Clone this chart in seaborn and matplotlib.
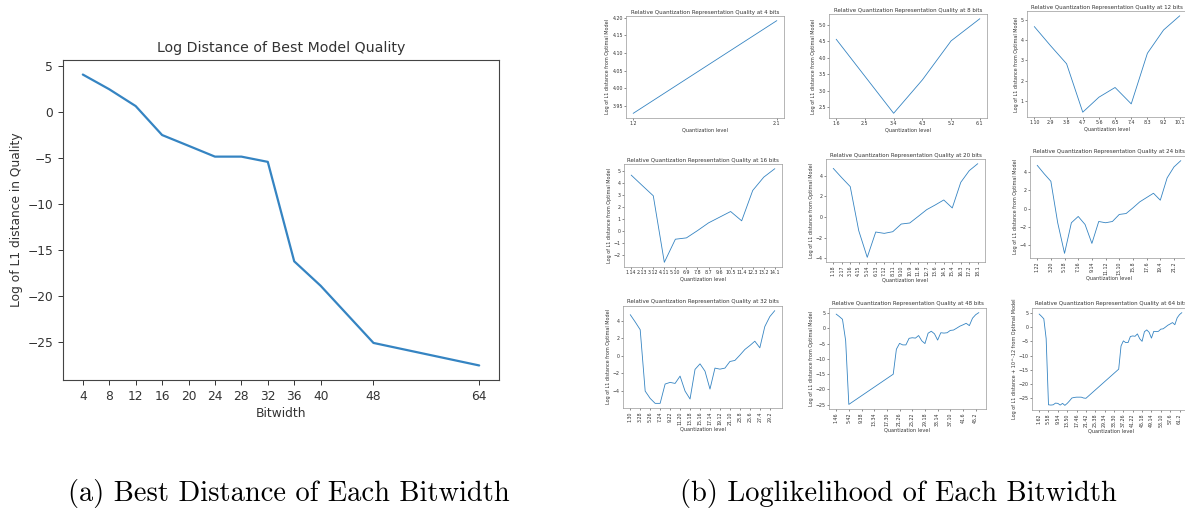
import matplotlib
matplotlib.use("Agg")
import matplotlib.pyplot as plt
import matplotlib.ticker as mticker
import seaborn as sns
import pandas as pd

# ---- left panel: best log distance per bitwidth ----
bitwidths = [4, 8, 12, 16, 20, 24, 28, 32, 36, 40, 48, 64]
best_log_distance = [4.05, 2.45, 0.62, -2.53, -3.70, -4.88, -4.88, -5.45,
                     -16.27, -18.93, -25.15, -27.60]

# ---- right panels: log L1 distance per quantization level ----
# positions are indices into the level list for that bitwidth
q4_idx = [0, 1]
q4_val = [3.929, 4.192]

q8_idx = list(range(6))
q8_val = [4.56, 3.44, 2.32, 3.33, 4.51, 5.18]

q12_idx = list(range(10))
q12_val = [4.67, 3.73, 2.83, 0.44, 1.18, 1.66, 0.85, 3.35, 4.50, 5.20]

q16_idx = list(range(14))
q16_val = [4.64, 3.78, 2.93, -2.57, -0.66, -0.55, 0.05, 0.69, 1.16, 1.63,
           0.86, 3.37, 4.47, 5.17]

q20_idx = list(range(18))
q20_val = [4.69, 3.79, 2.93, -1.32, -3.89, -1.45, -1.58, -1.42, -0.68, -0.58,
           0.06, 0.71, 1.16, 1.64, 0.87, 3.34, 4.47, 5.14]

q24_idx = list(range(22))
q24_val = [4.73, 3.82, 2.98, -1.56, -4.91, -1.56, -0.87, -1.75, -3.82, -1.42,
           -1.56, -1.42, -0.65, -0.55, 0.07, 0.73, 1.20, 1.67, 0.91, 3.35,
           4.55, 5.24]

q32_idx = list(range(30))
q32_val = [4.73, 3.89, 3.00, -4.05, -4.89, -5.46, -5.46, -3.24, -3.05, -3.17,
           -2.33, -4.05, -4.96, -1.56, -0.92, -1.76, -3.82, -1.41, -1.53, -1.41,
           -0.65, -0.53, 0.08, 0.73, 1.18, 1.68, 0.92, 3.36, 4.50, 5.19]

q48_idx = [0, 1, 2, 3, 4] + list(range(18, 46))
q48_val = [4.70, 3.90, 3.00, -4.00, -24.90,
           -15.00, -6.80, -4.90, -5.40, -5.40, -3.24, -3.05, -3.17, -2.33,
           -4.05, -4.96, -1.56, -0.92, -1.76, -3.82, -1.41, -1.53, -1.41,
           -0.65, -0.53, 0.08, 0.73, 1.18, 1.68, 0.92, 3.36, 4.50, 5.19]

q64_idx = list(range(0, 21)) + list(range(34, 62))
q64_val = [4.70, 3.90, 3.00, -4.00, -27.40, -27.50, -27.40, -26.80, -26.90,
           -27.50, -26.90, -27.60, -26.90, -26.00, -25.00, -24.80, -24.70,
           -24.70, -24.70, -25.00, -25.10,
           -14.80, -6.60, -4.80, -5.40, -5.40, -3.24, -3.05, -3.17, -2.33,
           -4.05, -4.96, -1.56, -0.92, -1.76, -3.82, -1.41, -1.53, -1.41,
           -0.65, -0.53, 0.08, 0.73, 1.18, 1.68, 0.92, 3.36, 4.50, 5.19]

panel_bits = [4, 8, 12, 16, 20, 24, 32, 48, 64]
panel_idx = [q4_idx, q8_idx, q12_idx, q16_idx, q20_idx, q24_idx, q32_idx, q48_idx, q64_idx]
panel_val = [q4_val, q8_val, q12_val, q16_val, q20_val, q24_val, q32_val, q48_val, q64_val]
panel_label_step = [1, 1, 1, 1, 1, 2, 2, 4, 4]
panel_rotate = [0, 0, 0, 0, 90, 90, 90, 90, 90]
panel_ystep = [0.05, 0.5, 1, 1, 2, 2, 2, 5, 5]
panel_ylabel = ["Log of L1 distance from Optimal Model"] * 8 + \
               ["Log of L1 distance + 10^-12 from Optimal Model"]

# axes boxes in pixels: (left, top, right, bottom)
panel_box = [
    (626, 16, 784, 118), (829, 14, 987, 118), (1027, 11, 1187, 117),
    (624, 164, 782, 267), (826, 159, 985, 262), (1030, 156, 1188, 258),
    (623, 306, 782, 408), (829, 308, 986, 409), (1032, 308, 1189, 410),
]

W, H = 1185, 509
sns.set_style("ticks")
plt.rcParams['font.family'] = ['DejaVu Sans']
plt.rcParams['axes.unicode_minus'] = True

fig = plt.figure(figsize=(W / 100, H / 100), dpi=100)


def px_axes(x0, y0, x1, y1):
    return fig.add_axes([x0 / W, 1 - y1 / H, (x1 - x0) / W, (y1 - y0) / H])


def level_names(bits):
    return [f"{i}.{bits - 1 - i}" for i in range(1, bits - 1)]


blue = "#3584c2"
text_col = "#333333"

# left panel
ax = px_axes(63, 60, 499, 380)
df = pd.DataFrame({"Bitwidth": bitwidths, "dist": best_log_distance})
sns.lineplot(data=df, x="Bitwidth", y="dist", ax=ax, color=blue, lw=1.6)
ax.set_xticks(bitwidths)
ax.yaxis.set_major_locator(mticker.MultipleLocator(5))
ax.set_title("Log Distance of Best Model Quality", fontsize=10.2, color=text_col, pad=6)
ax.set_xlabel("Bitwidth", fontsize=8.8, color=text_col, labelpad=3)
ax.set_ylabel("Log of L1 distance in Quality", fontsize=8.8, color=text_col, labelpad=3)
ax.tick_params(labelsize=8.8, colors=text_col, length=3.5, width=0.7)
for s in ax.spines.values():
    s.set_visible(True)
    s.set_color("#444444")
    s.set_linewidth(0.8)

# grid of small panels
for bits, idx, val, step, rot, ystep, ylab, box in zip(
        panel_bits, panel_idx, panel_val, panel_label_step, panel_rotate,
        panel_ystep, panel_ylabel, panel_box):
    a = px_axes(*box)
    sdf = pd.DataFrame({"level": idx, "dist": val})
    sns.lineplot(data=sdf, x="level", y="dist", ax=a, color=blue, lw=0.6)
    names = level_names(bits)
    a.set_xlim(-0.05 * (len(names) - 1), (len(names) - 1) * 1.05)
    ticks = list(range(0, len(names), step))
    a.set_xticks(ticks)
    a.set_xticklabels([names[t] for t in ticks], rotation=rot)
    a.yaxis.set_major_locator(mticker.MultipleLocator(ystep))
    a.set_title(f"Relative Quantization Representation Quality at {bits} bits",
                fontsize=4.0, color=text_col, pad=1.8)
    a.set_xlabel("Quantization level", fontsize=3.6, color=text_col, labelpad=1)
    a.set_ylabel(ylab, fontsize=3.5, color=text_col, labelpad=1.5)
    a.tick_params(labelsize=3.4, colors=text_col, length=1.2, width=0.4, pad=1)
    for s in a.spines.values():
        s.set_visible(True)
        s.set_color("#999999")
        s.set_linewidth(0.5)

# captions
fig.text(289 / W, 1 - 493 / H, "(a) Best Distance of Each Bitwidth",
         family="cmr10", fontsize=20.5, ha="center", va="center", color="black")
fig.text(898 / W, 1 - 493 / H, "(b) Loglikelihood of Each Bitwidth",
         family="cmr10", fontsize=20.5, ha="center", va="center", color="black")

fig.savefig("out.png", dpi=100, facecolor="white")
